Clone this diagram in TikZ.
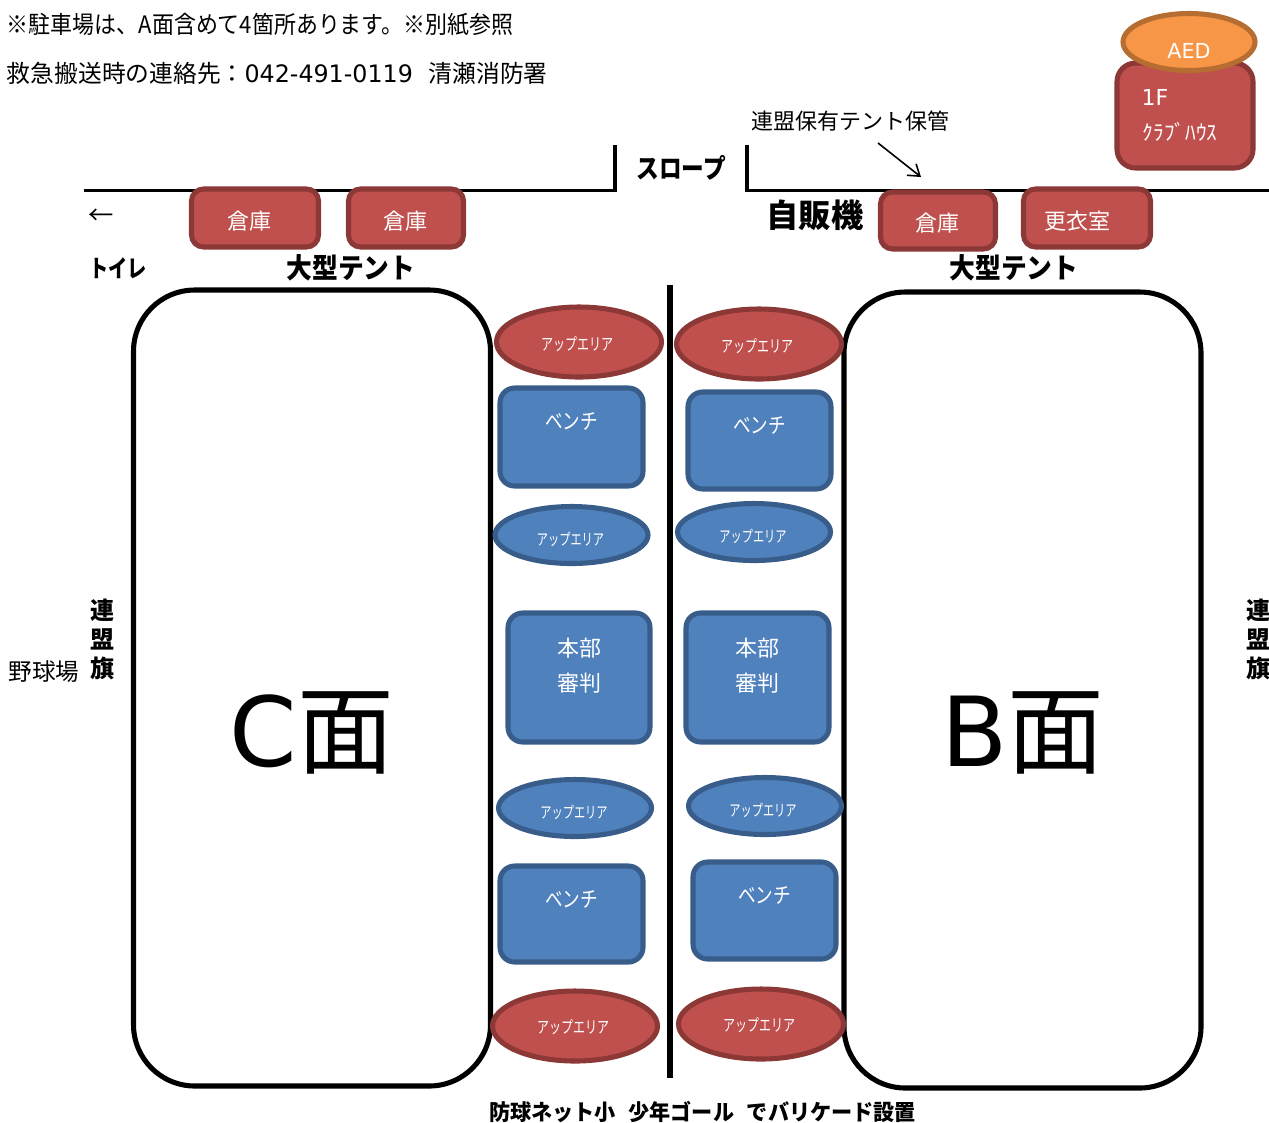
\documentclass[tikz,border=0pt]{standalone}
\usepackage{fontspec}
\setmainfont{Noto Sans CJK JP}
\newfontfamily\lat{DejaVu Sans}
\usetikzlibrary{shapes.geometric,arrows.meta}
\definecolor{redfill}{HTML}{C0504D}
\definecolor{redline}{HTML}{8C3836}
\definecolor{bluefill}{HTML}{4F81BD}
\definecolor{blueline}{HTML}{385D8A}
\definecolor{orfill}{HTML}{F79646}
\definecolor{orline}{HTML}{B66D31}
% text offset inside a shape: dx, dy (pt), text
\newcommand\off[3]{\raisebox{\dimexpr#2pt-.38em\relax}[0pt][0pt]{\makebox[0pt][c]{\hspace*{\dimexpr2\dimexpr#1pt\relax\relax}#3}}}
\newcommand\nar[2]{\scalebox{#1}[1]{#2}}
\newcommand\upr{\nar{.72}{アップエリア}}
\newcommand\upb{\nar{.70}{アップエリア}}
\newcommand\ben{\nar{.80}{ベンチ}}
\tikzset{
  x=.75pt,y=-.75pt,
  sz/.style 2 args={minimum width=#1*.75pt,minimum height=#2*.75pt,inner sep=0pt,outer sep=0pt},
  fa/.style={font=\fontsize{16.5}{20}\selectfont},
  fr/.style={font=\fontsize{12.5}{15}\selectfont},
  fb/.style={font=\fontsize{12}{15}\selectfont},
  redrect/.style={draw=redline,fill=redfill,line width=3.8pt,rounded corners=9pt,text=white,fa},
  bluerect/.style={draw=blueline,fill=bluefill,line width=3.8pt,rounded corners=11pt,text=white,fa},
  redell/.style={ellipse,draw=redline,fill=redfill,line width=3.8pt,text=white,fr},
  blueell/.style={ellipse,draw=blueline,fill=bluefill,line width=3.8pt,text=white,fb},
  field/.style={draw=black,fill=white,line width=3.8pt,rounded corners=46pt,font=\fontsize{72.5}{76}\selectfont},
  wall/.style={draw=black,line width=2.4pt},
  plain/.style={inner sep=0pt,outer sep=0pt,fa},
  large/.style={inner sep=0pt,outer sep=0pt,font=\fontsize{18}{22}\selectfont},
  heavy/.style={inner sep=0pt,outer sep=0pt,font=\fontsize{18}{21.75}\selectfont\bfseries},
}
\begin{document}
\begin{tikzpicture}
\useasboundingbox (0,0) rectangle (1269,1122);
% walls
\coordinate (w1) at (84,190.5); \coordinate (w2) at (615,190.5); \coordinate (w3) at (615,145);
\coordinate (w4) at (747,145); \coordinate (w5) at (747,190.5); \coordinate (w6) at (1269,190.5);
\draw[wall] (w1) -- (w2) -- (w3);
\draw[wall] (w4) -- (w5) -- (w6);
% header text
\node[large,anchor=west] (t1) at (7,25) {\nar{.915}{※駐車場は、A面含めて4箇所あります。※別紙参照}};
\node[large,anchor=west] (t2) at (7,73) {\nar{.99}{救急搬送時の連絡先：{\lat 042-491-0119}\hspace{12pt}清瀬消防署}};
\node[plain] (tent) at (850,121) {連盟保有テント保管};
\coordinate (a1) at (878,143); \coordinate (a2) at (921,177);
\draw[-{Straight Barb[length=8pt,width=11pt]},line width=1.2pt] (a1) -- (a2);
\node[heavy,font=\fontsize{20}{24}\selectfont\bfseries] (slope) at (681,168) {\nar{.85}{スロープ}};
\node[heavy,font=\fontsize{24.2}{28}\selectfont\bfseries] (vend) at (815,215) {自販機};
\node[heavy,font=\fontsize{21}{24}\selectfont\bfseries] (tl) at (351,268) {\nar{.92}{大型テント}};
\node[heavy,font=\fontsize{21}{24}\selectfont\bfseries] (tr) at (1014,268) {\nar{.92}{大型テント}};
\node[heavy] (toilet) at (118,268) {\nar{.8}{トイレ}};
\node[plain,font=\fontsize{19}{22}\selectfont] (arr) at (101,217) {←};
\node[heavy,align=center] (flagl) at (102,639) {連\\盟\\旗};
\node[heavy,align=center] (flagr) at (1258,639) {連\\盟\\旗};
\node[plain,font=\fontsize{17.7}{22}\selectfont] (ball) at (44,672) {野球場};
\node[heavy,font=\fontsize{16.5}{20}\selectfont\bfseries] (bottom) at (702.5,1112) {\nar{.96}{防球ネット小\hspace{10pt}少年ゴール\hspace{10pt}でバリケード設置}};
% fields and net
\node[field,sz={357}{796}] (C) at (312,688) {\off{0}{-31.5}{{\lat C}面}};
\node[field,sz={357}{796}] (B) at (1022.5,690) {\off{0}{-30}{{\lat B}面}};
\coordinate (n1) at (670,285); \coordinate (n2) at (670,1078);
\draw[draw=black,line width=4pt] (n1) -- (n2);
% buildings
\node[redrect,sz={127}{58}] (s1) at (255,218) {\off{-4.5}{-2.25}{倉庫}};
\node[redrect,sz={115}{58}] (s2) at (406,218) {\off{-.75}{-2.25}{倉庫}};
\node[redrect,sz={115}{57}] (s3) at (938,220.5) {\off{-.75}{-1.9}{倉庫}};
\node[redrect,sz={127}{58}] (s4) at (1087,218) {\off{-7.5}{-2.25}{更衣室}};
\node[redrect,rounded corners=14pt,sz={136}{105}] (club) at (1185,115.5) {\off{-22.5}{13.9}{{\lat 1F}}\off{-3.75}{-12.4}{\fontsize{16}{18}\selectfont ｸﾗﾌﾞﾊｳｽ}};
\node[ellipse,draw=orline,fill=orfill,line width=3.8pt,text=white,fa,sz={132}{57}] (aed) at (1189,42) {\off{0}{-6}{{\lat\fontsize{15.5}{18}\selectfont AED}}};
% red up areas
\node[redell,sz={165}{70}] (u1) at (579,342) {\off{-1.5}{-1.5}{\upr}};
\node[redell,sz={165}{70}] (u2) at (759,344) {\off{-1.5}{-1.5}{\upr}};
\node[redell,sz={165}{70}] (u3) at (575,1026) {\off{-1.5}{-.75}{\upr}};
\node[redell,sz={165}{70}] (u4) at (761,1024) {\off{-1.5}{-.75}{\upr}};
% blue up areas
\node[blueell,sz={153}{57}] (u5) at (571.5,535) {\off{-.75}{-3}{\upb}};
\node[blueell,sz={153}{57}] (u6) at (754,532) {\off{-.75}{-3.5}{\upb}};
\node[blueell,sz={153}{57}] (u7) at (575,808) {\off{-.75}{-3}{\upb}};
\node[blueell,sz={153}{57}] (u8) at (765,806) {\off{-1.5}{-3}{\upb}};
% benches and HQ
\node[bluerect,sz={143}{98}] (b1) at (571.5,437) {\off{0}{12}{\ben}};
\node[bluerect,sz={143}{97}] (b2) at (759.5,440.5) {\off{0}{11.6}{\ben}};
\node[bluerect,sz={142}{129}] (h1) at (579,677.5) {\off{0}{22}{本部}\off{0}{-4}{審判}};
\node[bluerect,sz={143}{129}] (h2) at (757.5,677.5) {\off{0}{22}{本部}\off{0}{-4}{審判}};
\node[bluerect,sz={143}{96}] (b3) at (571.5,914) {\off{0}{11.25}{\ben}};
\node[bluerect,sz={143}{97}] (b4) at (764.5,910.5) {\off{0}{11.6}{\ben}};
\end{tikzpicture}
\end{document}
